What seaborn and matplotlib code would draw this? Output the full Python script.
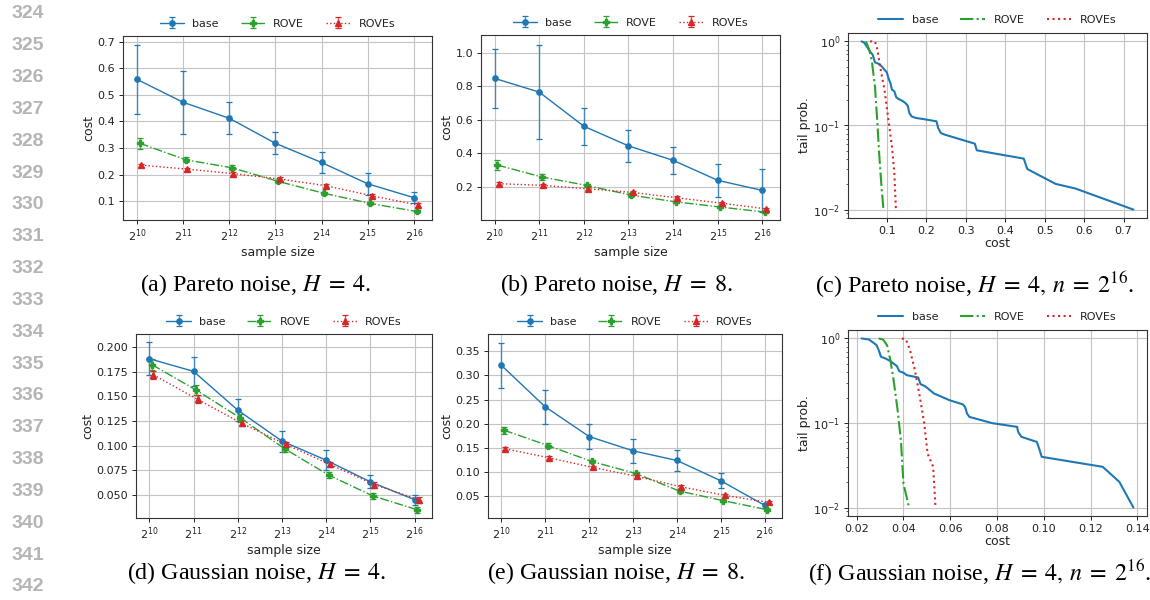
import numpy as np
import pandas as pd
import matplotlib
matplotlib.use("Agg")
import matplotlib.pyplot as plt
import seaborn as sns
from matplotlib.ticker import NullLocator, MultipleLocator

# ---------------- data ----------------
exponents = [10, 11, 12, 13, 14, 15, 16]
sample_size = [2 ** k for k in exponents]
methods = ["base", "ROVE", "ROVEs"]

# (a) Pareto noise, H=4
par4_base = [0.558, 0.472, 0.412, 0.318, 0.246, 0.166, 0.114]
par4_base_err = [0.130, 0.119, 0.060, 0.042, 0.039, 0.041, 0.021]
par4_rove = [0.318, 0.256, 0.226, 0.175, 0.130, 0.092, 0.062]
par4_rove_err = [0.021, 0.010, 0.010, 0.007, 0.007, 0.007, 0.007]
par4_roves = [0.236, 0.221, 0.204, 0.184, 0.159, 0.121, 0.086]
par4_roves_err = [0.006, 0.006, 0.006, 0.006, 0.006, 0.006, 0.006]

# (b) Pareto noise, H=8
par8_base = [0.847, 0.765, 0.562, 0.445, 0.359, 0.240, 0.180]
par8_base_err = [0.174, 0.280, 0.111, 0.093, 0.082, 0.097, 0.126]
par8_rove = [0.331, 0.260, 0.210, 0.152, 0.112, 0.081, 0.051]
par8_rove_err = [0.030, 0.015, 0.010, 0.010, 0.008, 0.008, 0.008]
par8_roves = [0.220, 0.210, 0.190, 0.168, 0.136, 0.104, 0.070]
par8_roves_err = [0.010, 0.008, 0.008, 0.008, 0.008, 0.008, 0.008]

# (d) Gaussian noise, H=4
gau4_base = [0.1884, 0.1755, 0.1360, 0.1045, 0.0851, 0.0630, 0.0449]
gau4_base_err = [0.0170, 0.0147, 0.0110, 0.0106, 0.0100, 0.0065, 0.0050]
gau4_rove = [0.1823, 0.1564, 0.1280, 0.0967, 0.0698, 0.0486, 0.0346]
gau4_rove_err = [0.0055, 0.0050, 0.0040, 0.0030, 0.0030, 0.0030, 0.0030]
gau4_roves = [0.1720, 0.1470, 0.1226, 0.1011, 0.0807, 0.0602, 0.0449]
gau4_roves_err = [0.0040, 0.0040, 0.0030, 0.0030, 0.0030, 0.0030, 0.0030]

# (e) Gaussian noise, H=8
gau8_base = [0.321, 0.235, 0.1734, 0.1438, 0.1238, 0.0817, 0.0307]
gau8_base_err = [0.046, 0.035, 0.0255, 0.0245, 0.0225, 0.0155, 0.0050]
gau8_rove = [0.1866, 0.1548, 0.1217, 0.0969, 0.0603, 0.0403, 0.0217]
gau8_rove_err = [0.007, 0.005, 0.004, 0.003, 0.004, 0.003, 0.003]
gau8_roves = [0.148, 0.1293, 0.1093, 0.0907, 0.0693, 0.0514, 0.0369]
gau8_roves_err = [0.003, 0.003, 0.003, 0.003, 0.003, 0.003, 0.003]

# (c) tail probabilities, Pareto noise, H=4, n=2^16
tailp_base_cost = [0.036, 0.042, 0.049, 0.057, 0.064, 0.070, 0.079, 0.087, 0.094, 0.100,
                   0.104, 0.109, 0.113, 0.119, 0.124, 0.130, 0.139, 0.147, 0.153, 0.157,
                   0.163, 0.173, 0.194, 0.226, 0.230, 0.237, 0.247, 0.289, 0.323, 0.328,
                   0.366, 0.447, 0.456, 0.486, 0.528, 0.578, 0.725]
tailp_base_prob = [1.0, 0.973, 0.872, 0.760, 0.695, 0.563, 0.543, 0.505, 0.461, 0.428,
                   0.367, 0.320, 0.267, 0.255, 0.216, 0.206, 0.197, 0.185, 0.172, 0.141,
                   0.128, 0.123, 0.119, 0.112, 0.0934, 0.0814, 0.0778, 0.0679, 0.0608, 0.0507,
                   0.0471, 0.0404, 0.0304, 0.0256, 0.0202, 0.0178, 0.010]
tailp_rove_cost = [0.047, 0.056, 0.062, 0.070, 0.076, 0.081, 0.087, 0.0915]
tailp_rove_prob = [1.0, 0.78, 0.58, 0.29, 0.107, 0.043, 0.0173, 0.010]
tailp_roves_cost = [0.0575, 0.070, 0.076, 0.083, 0.094, 0.104, 0.113, 0.119, 0.123]
tailp_roves_prob = [1.0, 1.0, 0.80, 0.50, 0.267, 0.117, 0.056, 0.027, 0.010]

# (f) tail probabilities, Gaussian noise, H=4, n=2^16
tailg_base_cost = [0.0221, 0.0252, 0.0266, 0.0285, 0.0294, 0.0304, 0.0323, 0.0344, 0.0361, 0.0372,
                   0.0382, 0.0400, 0.0414, 0.0463, 0.0473, 0.0492, 0.0531, 0.0597, 0.0654, 0.0663,
                   0.0672, 0.0682, 0.0780, 0.0886, 0.0890, 0.0904, 0.0970, 0.0980, 0.0991, 0.1252,
                   0.1323, 0.1383]
tailg_base_prob = [1.0, 0.973, 0.913, 0.834, 0.728, 0.607, 0.580, 0.539, 0.497, 0.471,
                   0.410, 0.393, 0.368, 0.345, 0.288, 0.273, 0.223, 0.186, 0.166, 0.155,
                   0.129, 0.118, 0.0995, 0.090, 0.0787, 0.0686, 0.0598, 0.0499, 0.0398, 0.0303,
                   0.0201, 0.010]
tailg_rove_cost = [0.0294, 0.0313, 0.0330, 0.0344, 0.0358, 0.0375, 0.0389, 0.0400, 0.0424]
tailg_rove_prob = [1.0, 0.97, 0.83, 0.554, 0.32, 0.142, 0.0626, 0.0192, 0.010]
tailg_roves_cost = [0.0393, 0.0411, 0.0428, 0.0449, 0.0470, 0.0489, 0.0503, 0.0527, 0.0537]
tailg_roves_prob = [1.0, 0.97, 0.73, 0.42, 0.204, 0.0986, 0.0435, 0.0303, 0.010]

captions = [
    r"(a) Pareto noise, $H\;=\;4$.",
    r"(b) Pareto noise, $H\;=\;8$.",
    r"(c) Pareto noise, $H\;=\;4,\, n\;=\;2^{16}$.",
    r"(d) Gaussian noise, $H\;=\;4$.",
    r"(e) Gaussian noise, $H\;=\;8$.",
    r"(f) Gaussian noise, $H\;=\;4,\, n\;=\;2^{16}$.",
]
line_numbers = list(range(324, 343))

# ---------------- style ----------------
sns.set_style("ticks")
plt.rcParams.update({
    "font.family": ["DejaVu Sans"],
    "axes.edgecolor": "#333333",
    "axes.linewidth": 0.8,
    "xtick.labelsize": 8.0,
    "ytick.labelsize": 8.0,
    "axes.labelsize": 9.0,
    "legend.fontsize": 8.0,
    "xtick.major.size": 3,
    "ytick.major.size": 3,
    "ytick.minor.size": 1.8,
    "xtick.major.width": 0.7,
    "ytick.major.width": 0.7,
    "ytick.minor.width": 0.5,
    "xtick.color": "#222222",
    "ytick.color": "#222222",
    "axes.labelcolor": "#222222",
    "text.color": "#222222",
    "grid.color": "#c4c4c4",
    "grid.linewidth": 0.8,
    "xtick.major.pad": 2.5,
    "ytick.major.pad": 2.5,
})

colors = {"base": "#1f77b4", "ROVE": "#2ca02c", "ROVEs": "#d62728"}
lstyles = {"base": "-", "ROVE": "-.", "ROVEs": ":"}
markers = {"base": "o", "ROVE": "P", "ROVEs": "^"}
xshift = {"base": 1.0, "ROVE": 2 ** 0.06, "ROVEs": 2 ** 0.09}

W, H = 1150, 600
fig = plt.figure(figsize=(W / 100, H / 100), dpi=100)


def px_axes(left, right, top, bottom):
    return fig.add_axes([left / W, 1 - bottom / H, (right - left) / W, (bottom - top) / H])


def err_panel(ax, series, ylocator, ylim):
    for name, (vals, errs) in zip(methods, series):
        xs = [s * xshift[name] for s in sample_size]
        cont = ax.errorbar(xs, vals, yerr=errs, color=colors[name], ls=lstyles[name],
                           marker=markers[name], ms=3.8, lw=1.0, elinewidth=1.0,
                           capsize=2, capthick=0.9, label=name)
        for col in cont[2]:
            col.set_alpha(0.8)
    ax.set_xscale("log", base=2)
    ax.xaxis.set_minor_locator(NullLocator())
    ax.set_xticks(sample_size)
    ax.yaxis.set_major_locator(MultipleLocator(ylocator))
    ax.set_ylim(*ylim)
    ax.grid(True, which="major")
    ax.set_xlabel("sample size", labelpad=1)
    ax.set_ylabel("cost", labelpad=2)
    ax.legend(loc="center", bbox_to_anchor=(0.5, 1.067), ncol=3, frameon=False,
              handlelength=2.2, columnspacing=2.0, handletextpad=0.7, borderaxespad=0)


def tail_panel(ax, series, xlocator, legend_y):
    for name, (cost, prob) in zip(methods, series):
        df = pd.DataFrame({"cost": cost, "prob": prob})
        sns.lineplot(data=df, x="cost", y="prob", ax=ax, sort=False, estimator=None,
                     color=colors[name], linestyle=lstyles[name], lw=1.5, label=name)
    ax.set_yscale("log")
    ax.xaxis.set_major_locator(MultipleLocator(xlocator))
    ax.grid(True, which="major")
    ax.set_xlabel("cost", labelpad=1)
    ax.set_ylabel("tail prob.", labelpad=2)
    ax.legend(loc="center", bbox_to_anchor=(0.5, legend_y), ncol=3, frameon=False,
              handlelength=2.2, columnspacing=2.0, handletextpad=0.8, borderaxespad=0)


ax_a = px_axes(123, 432, 36, 220)
err_panel(ax_a, [(par4_base, par4_base_err), (par4_rove, par4_rove_err),
                 (par4_roves, par4_roves_err)], 0.1, (0.030, 0.721))
ax_b = px_axes(481, 780, 35, 220)
err_panel(ax_b, [(par8_base, par8_base_err), (par8_rove, par8_rove_err),
                 (par8_roves, par8_roves_err)], 0.2, (0.004, 1.105))
ax_c = px_axes(848, 1147, 33, 218)
tail_panel(ax_c, [(tailp_base_cost, tailp_base_prob), (tailp_rove_cost, tailp_rove_prob),
                  (tailp_roves_cost, tailp_roves_prob)], 0.1, 1.072)

ax_d = px_axes(136, 432, 334, 518)
err_panel(ax_d, [(gau4_base, gau4_base_err), (gau4_rove, gau4_rove_err),
                 (gau4_roves, gau4_roves_err)], 0.025, (0.0262, 0.2136))
ax_e = px_axes(488, 782, 334, 518)
err_panel(ax_e, [(gau8_base, gau8_base_err), (gau8_rove, gau8_rove_err),
                 (gau8_roves, gau8_roves_err)], 0.05, (0.0045, 0.386))
ax_f = px_axes(848, 1147, 330, 516)
tail_panel(ax_f, [(tailg_base_cost, tailg_base_prob), (tailg_rove_cost, tailg_rove_prob),
                  (tailg_roves_cost, tailg_roves_prob)], 0.02, 1.07)

# captions
cap_pos = [(256, 285), (616, 285), (975, 285), (257, 573), (616, 573), (980, 573)]
for (cx, cy), txt in zip(cap_pos, captions):
    fig.text(cx / W, 1 - cy / H, txt, ha="center", va="center", fontsize=17.3,
             family="Liberation Serif", math_fontfamily="stix", color="black")

# line numbers
for i, n in enumerate(line_numbers):
    y = 14 + i * 31.83
    fig.text(44 / W, 1 - y / H, str(n), ha="right", va="center", fontsize=14,
             family="Liberation Sans", weight="bold", color="#b5b5b5")

fig.savefig("out.png", dpi=100)
